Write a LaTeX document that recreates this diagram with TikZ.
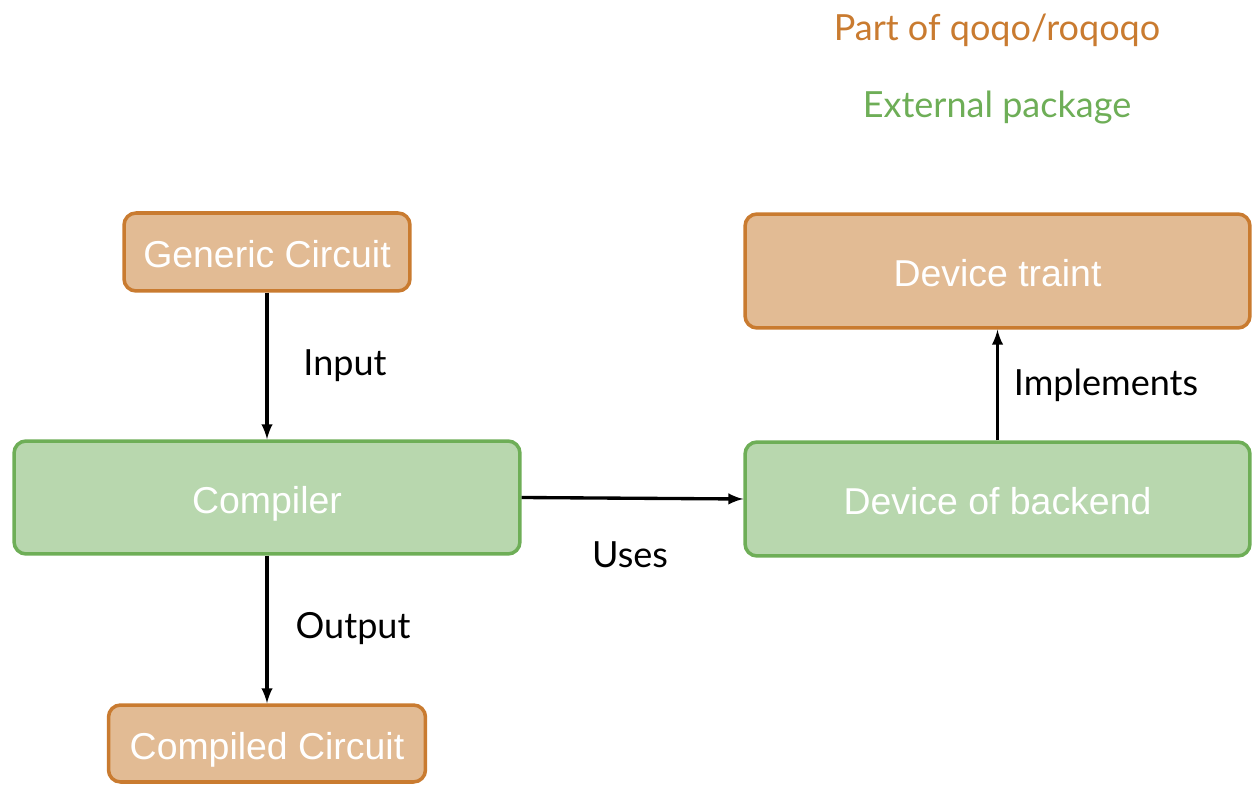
\documentclass[tikz,border=0pt]{standalone}
\usepackage{fontspec}
\setmainfont{Liberation Sans}
\newfontfamily\labelfont{Lato}
\usetikzlibrary{arrows}
\usetikzlibrary{positioning}
\definecolor{qorange}{HTML}{C97B30}
\definecolor{qorangefill}{HTML}{E2BB94}
\definecolor{qgreen}{HTML}{6EAE57}
\definecolor{qgreenfill}{HTML}{B8D7AE}
\tikzset{qbox/.style = {draw = qorange, fill = qorangefill, line width = 2pt,
    rounded corners = 0.24cm, text = white, font = \fontsize{21.3}{23}\selectfont,
    inner sep = 0, text height = 19pt, text depth = 1pt}}
\tikzset{extbox/.style = {qbox, draw = qgreen, fill = qgreenfill}}
\tikzset{lbl/.style = {font = \labelfont\fontsize{20.5}{22}\selectfont, text = black}}
\tikzset{arr/.style = {-latex, line width = 1.9pt}}

\begin{document}
\begin{tikzpicture}[x = 0.02cm, y = -0.02cm]
    \useasboundingbox (0, 0) rectangle (1260, 793);

    \node [lbl, text = qorange] (partof) at (997, 30) {Part of qoqo/roqoqo};
    \node [lbl, text = qgreen] (external) at (997, 108) {External package};

    \node [qbox, minimum width = 5.72cm, minimum height = 1.56cm] (generic) at (267, 252) {Generic Circuit};
    \node [extbox, minimum width = 10.12cm, minimum height = 2.26cm] (compiler) at (267, 497.5) {Compiler};
    \node [qbox, minimum width = 6.34cm, minimum height = 1.54cm] (compiled) at (267, 743.5) {Compiled Circuit};
    \node [qbox, minimum width = 10.1cm, minimum height = 2.28cm] (traint) at (997.5, 271) {Device traint};
    \node [extbox, minimum width = 10.1cm, minimum height = 2.28cm] (backend) at (997.5, 499) {Device of backend};

    \draw [arr] (generic) -- (compiler);
    \draw [arr] (compiler) -- (compiled);
    \draw [arr] (compiler.east) -- (backend.west);
    \draw [arr] (backend) -- (traint);

    \node [lbl] (input) at (345, 366) {Input};
    \node [lbl] (output) at (353, 629) {Output};
    \node [lbl] (uses) at (630, 555) {Uses};
    \node [lbl] (impl) at (1106, 385) {Implements};
  \end{tikzpicture}
\end{document}
